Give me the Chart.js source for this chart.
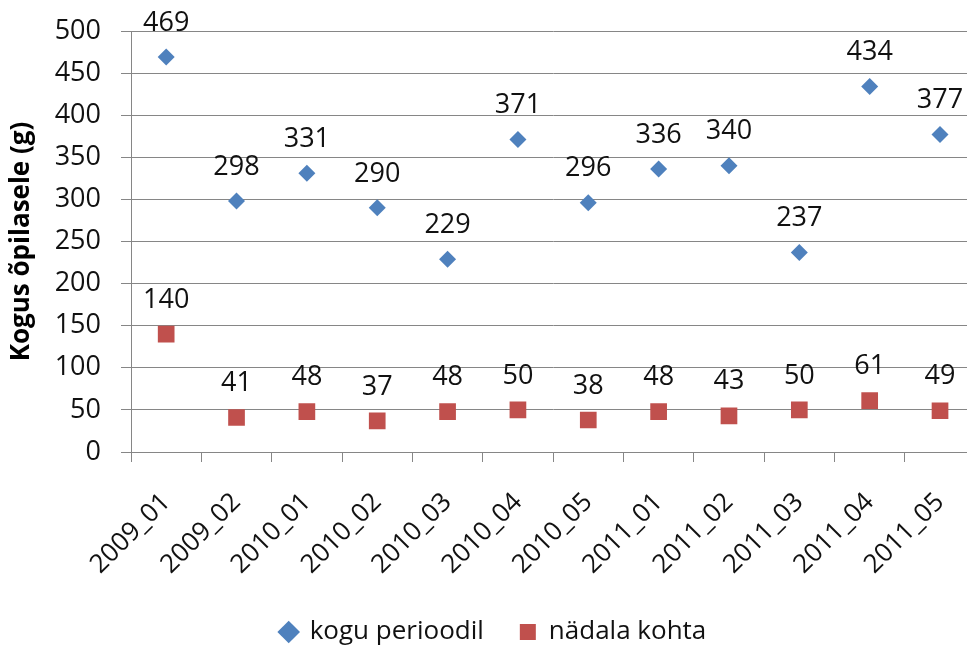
<!DOCTYPE html>
<html>
<head>
<meta charset="utf-8">
<script src="https://cdn.jsdelivr.net/npm/chart.js@4/dist/chart.umd.min.js"></script>
<style>
  html, body { margin: 0; padding: 0; background: #fff; overflow: hidden; width: 967px; height: 649px; }
  canvas { display: block; }
</style>
</head>
<body>
<canvas id="c" width="987" height="649"></canvas>
<script>
const categories = ['2009_01','2009_02','2010_01','2010_02','2010_03','2010_04','2010_05','2011_01','2011_02','2011_03','2011_04','2011_05'];
const koguPerioodil = [469, 298, 331, 290, 229, 371, 296, 336, 340, 237, 434, 377];
const nadalaKohta = [140, 41, 48, 37, 48, 50, 38, 48, 43, 50, 61, 49];
const seriesNames = ['kogu perioodil', 'nädala kohta'];
const yTitle = 'Kogus õpilasele (g)';

const FONT = "'Open Sans', 'Liberation Sans', sans-serif";
const TEXT = '#111111';
const GRID = '#868686';

const labelPlugin = {
  id: 'pointLabels',
  afterDatasetsDraw(chart) {
    const ctx = chart.ctx;
    ctx.save();
    ctx.font = '27px ' + FONT;
    ctx.fillStyle = TEXT;
    ctx.textAlign = 'center';
    ctx.textBaseline = 'middle';
    chart.data.datasets.forEach((ds, i) => {
      const meta = chart.getDatasetMeta(i);
      meta.data.forEach((el, j) => {
        ctx.fillText(String(ds.data[j]), el.x, el.y - 34);
      });
    });
    ctx.restore();
  }
};

new Chart(document.getElementById('c'), {
  type: 'line',
  data: {
    labels: categories,
    datasets: [
      {
        label: seriesNames[0],
        data: koguPerioodil,
        showLine: false,
        pointStyle: 'rectRot',
        pointRadius: 8.5,
        pointHoverRadius: 8.5,
        backgroundColor: '#4F81BD',
        borderColor: '#4F81BD',
        borderWidth: 0
      },
      {
        label: seriesNames[1],
        data: nadalaKohta,
        showLine: false,
        pointStyle: 'rect',
        pointRadius: 11.8,
        pointHoverRadius: 11.8,
        backgroundColor: '#C0504D',
        borderColor: '#C0504D',
        borderWidth: 0
      }
    ]
  },
  options: {
    responsive: false,
    animation: false,
    events: [],
    layout: { padding: { top: 31, left: 0, right: 0, bottom: -6 } },
    plugins: {
      tooltip: { enabled: false },
      legend: {
        display: true,
        position: 'bottom',
        labels: {
          usePointStyle: true,
          font: { family: FONT, size: 26 },
          color: TEXT,
          padding: 36,
          boxWidth: 16,
          boxHeight: 16
        }
      }
    },
    scales: {
      x: {
        type: 'category',
        offset: true,
        afterFit(scale) {
          scale.height = 131;
          scale.paddingLeft = 0;
          scale.paddingRight = 0;
        },
        grid: {
          offset: true,
          drawOnChartArea: false,
          drawTicks: true,
          tickLength: 10,
          color: GRID,
          lineWidth: 1
        },
        border: { color: GRID, width: 1 },
        ticks: {
          minRotation: 45,
          maxRotation: 45,
          autoSkip: false,
          padding: 25,
          font: { family: FONT, size: 26 },
          color: TEXT
        }
      },
      y: {
        min: 0,
        max: 500,
        afterFit(scale) {
          scale.width = 131;
          scale.paddingTop = 0;
          scale.paddingBottom = 0;
        },
        grid: {
          color: GRID,
          lineWidth: 1,
          drawTicks: true,
          tickLength: 10
        },
        border: { color: GRID, width: 1 },
        ticks: {
          stepSize: 50,
          padding: 20,
          font: { family: FONT, size: 27 },
          color: TEXT
        },
        title: {
          display: true,
          text: yTitle,
          font: { family: FONT, size: 26, weight: 'bold' },
          color: '#000',
          padding: { top: 6, bottom: 0 }
        }
      }
    }
  },
  plugins: [labelPlugin]
});
</script>
</body>
</html>
